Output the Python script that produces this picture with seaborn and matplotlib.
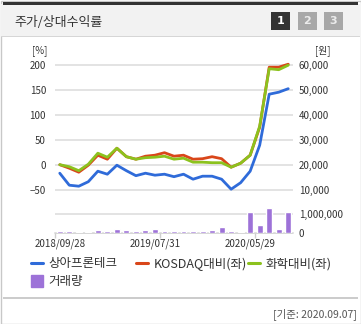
import numpy as np
import pandas as pd
import matplotlib
matplotlib.use("Agg")
import matplotlib.pyplot as plt
import seaborn as sns
from matplotlib.lines import Line2D
from matplotlib.patches import Rectangle
from matplotlib.ticker import FuncFormatter

# ---------------- data ----------------
months = ["2018/09", "2018/10", "2018/11", "2018/12", "2019/01", "2019/02", "2019/03",
          "2019/04", "2019/05", "2019/06", "2019/07", "2019/08", "2019/09", "2019/10",
          "2019/11", "2019/12", "2020/01", "2020/02", "2020/03", "2020/04", "2020/05",
          "2020/06", "2020/07", "2020/08", "2020/09"]
x_tick_labels = ["2018/09/28", "2019/07/31", "2020/05/29"]
x_tick_index = [0, 10, 20]

price_won = [16600, 11800, 11400, 13200, 17400, 16200, 19800, 17600, 15600, 16600,
             15800, 16200, 15200, 16200, 14200, 15400, 15400, 14200, 10200, 12800,
             17400, 27800, 48200, 49000, 50400]
kosdaq_rel = [0, -7, -15, -1, 19, 11, 33, 16, 11, 17, 19, 24, 17, 19, 11, 12, 16, 12,
              -5, 3, 19, 75, 195, 195, 201]
chem_rel = [0, -4, -12, 1, 23, 15, 33, 16, 11, 14, 15, 17, 11, 13, 5, 5, 4, 4,
            -5, 3, 19, 77, 192, 190, 199]
volume = [95000, 95000, 50000, 90000, 185000, 140000, 240000, 150000, 105000, 185000,
          240000, 140000, 140000, 100000, 95000, 95000, 185000, 335000, 140000, 50000,
          1060000, 440000, 1260000, 230000, 1100000]

pct_ticks = [-50, 0, 50, 100, 150, 200]
won_ticks = [10000, 20000, 30000, 40000, 50000, 60000]
vol_ticks = [0, 1000000]

series_names = ["상아프론테크", "KOSDAQ대비(좌)", "화학대비(좌)", "거래량"]
title = "주가/상대수익률"
footer = "[기준: 2020.09.07]"

# ---------------- style ----------------
sns.set_theme(style="white")
plt.rcParams["font.family"] = ["Noto Sans CJK KR", "DejaVu Sans"]

C_BLUE = "#2f6bd9"
C_RED = "#d9461a"
C_GREEN = "#8cc21e"
C_PURPLE = "#9d72d8"
C_GRID = "#e0e0e0"
C_TEXT = "#333333"

W, H = 361, 324
fig = plt.figure(figsize=(W / 100, H / 100), dpi=100)
fig.patch.set_facecolor("white")


def fx(x):
    return x / W


def fy(y):
    return 1 - y / H


def rect(x, y, w, h, **kw):
    r = Rectangle((fx(x), fy(y + h)), w / W, h / H, transform=fig.transFigure, **kw)
    fig.patches.append(r)
    return r


# header / frame
rect(0.5, 0.5, W - 1, H - 1, fill=False, edgecolor="#c8c8c8", lw=1)
rect(1, 4, W - 2, 32.5, facecolor="#f2f2f2", edgecolor="none")
rect(3, 2.5, W - 6, 2, facecolor="#333333", edgecolor="none")
rect(1, 36, W - 2, 1, facecolor="#d6d6d6", edgecolor="none")
rect(3, 297, W - 6, 2, facecolor="#cccccc", edgecolor="none")

fig.text(fx(14), fy(22), title, fontsize=9.3, color=C_TEXT, ha="left", va="center")
for i, (bx, fc, tc) in enumerate([(271, "#333333", "white"),
                                  (297.5, "#a8a8a8", "#ececec"),
                                  (324, "#a8a8a8", "#ececec")]):
    rect(bx, 12, 19, 18, facecolor=fc, edgecolor="none")
    fig.text(fx(bx + 9.5), fy(21.5), str(i + 1), fontsize=8, fontweight="bold",
             color=tc, ha="center", va="center", family="DejaVu Sans")

# ---------------- axes ----------------
ax_left, ax_right = 55, 293
px_per_pct = 0.5
zero_y = 164.7
top_px, bot_px = 58, 198
ax = fig.add_axes([fx(ax_left), fy(bot_px), (ax_right - ax_left) / W, (bot_px - top_px) / H])
ylo = (zero_y - bot_px) / px_per_pct
yhi = (zero_y - top_px) / px_per_pct

idx = np.arange(len(months))
df = pd.DataFrame({"idx": idx, "price": price_won, "kosdaq": kosdaq_rel,
                   "chem": chem_rel, "volume": volume})

ax_r = ax.twinx()
sns.lineplot(data=df, x="idx", y="price", ax=ax_r, color=C_BLUE, lw=2.0)
sns.lineplot(data=df, x="idx", y="kosdaq", ax=ax, color=C_RED, lw=2.0, zorder=3)
sns.lineplot(data=df, x="idx", y="chem", ax=ax, color=C_GREEN, lw=2.0, zorder=4)

ax.set_xlim(-0.5, len(months) - 0.5)
ax.set_ylim(ylo, yhi)
ax_r.set_ylim(20000 * (1 + ylo / 100), 20000 * (1 + yhi / 100))
ax.set_yticks(pct_ticks)
ax_r.set_yticks(won_ticks)
ax_r.yaxis.set_major_formatter(FuncFormatter(lambda v, p: f"{int(v):,}"))
ax.set_xticks([])
ax.grid(axis="y", color=C_GRID, lw=1.3)
ax.grid(axis="x", visible=False)
ax.set_axisbelow(True)
for a in (ax, ax_r):
    for s in a.spines.values():
        s.set_visible(False)
    a.set_xlabel("")
    a.set_ylabel("")
    a.patch.set_alpha(0)
ax.tick_params(axis="y", length=0, pad=6.5, labelsize=7, labelcolor=C_TEXT)
ax_r.tick_params(axis="y", length=0, pad=4.2, labelsize=7, labelcolor=C_TEXT)

# volume panel
vbase, v1m = 233.3, 213.6
vtop = 203
axv = fig.add_axes([fx(ax_left), fy(vbase), (ax_right - ax_left) / W, (vbase - vtop) / H])
axv.axhline(0, color="#d0d0d0", lw=1.2, zorder=0.5, clip_on=False)
sns.barplot(data=df, x="idx", y="volume", ax=axv, color=C_PURPLE, saturation=1,
            width=0.62, native_scale=True, zorder=2)
axv.set_xlim(-0.5, len(months) - 0.5)
axv.set_ylim(0, (vbase - vtop) / (vbase - v1m) * 1e6)
axv.set_xlabel("")
axv.set_ylabel("")
axv.yaxis.tick_right()
axv.set_yticks(vol_ticks)
axv.yaxis.set_major_formatter(FuncFormatter(lambda v, p: f"{int(v):,}"))
axv.tick_params(axis="y", length=0, pad=4.2, labelsize=7, labelcolor=C_TEXT)
axv.grid(axis="y", color=C_GRID, lw=1.3)
axv.grid(axis="x", visible=False)
axv.set_axisbelow(True)
for k, s in axv.spines.items():
    s.set_visible(False)
axv.set_xticks(x_tick_index)
axv.set_xticklabels(x_tick_labels)
axv.set_xticks([i + 0.5 for i in [-1, 10, 20]], minor=True)
axv.tick_params(axis="x", which="major", length=0, pad=4, labelsize=7, labelcolor=C_TEXT)
axv.tick_params(axis="x", which="minor", length=3.5, width=1, color="#cfcfcf",
                direction="out", bottom=True)
axv.patch.set_alpha(0)

# unit labels
fig.text(fx(40), fy(51), "[%]", fontsize=7, color=C_TEXT, ha="center", va="center")
fig.text(fx(323), fy(51), "[원]", fontsize=7, color=C_TEXT, ha="center", va="center")

# legend: one entry per position, as in the reference layout
leg_items = [
    (Line2D([], [], color=C_BLUE, lw=2.2), series_names[0], 31, 264),
    (Line2D([], [], color=C_RED, lw=2.2), series_names[1], 136, 264),
    (Line2D([], [], color=C_GREEN, lw=2.2), series_names[2], 248, 264),
    (Line2D([], [], marker="s", ls="", color=C_PURPLE, markersize=8.5), series_names[3], 31, 282),
]
for h, lab, lx, ly in leg_items:
    fig.legend([h], [lab], loc="center left", bbox_to_anchor=(fx(lx), fy(ly)),
               frameon=False, fontsize=9, handlelength=0.95, handletextpad=0.45,
               borderpad=0, borderaxespad=0, labelcolor=C_TEXT)

fig.text(fx(357), fy(314), footer, fontsize=7.5, color="#555555", ha="right", va="center")

fig.savefig("out.png", dpi=100)
